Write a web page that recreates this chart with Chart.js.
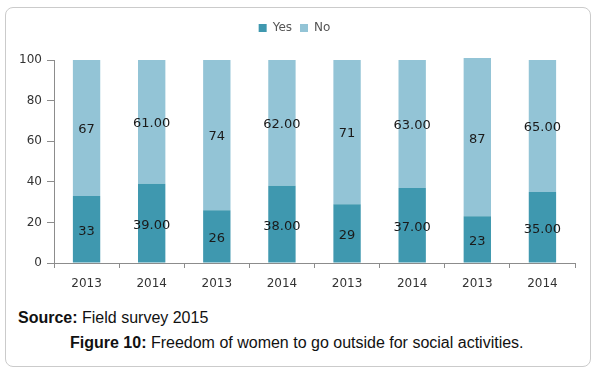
<!DOCTYPE html>
<html lang="en">
<head>
  <meta charset="UTF-8">
  <title>Figure 10</title>
  <script src="https://cdn.jsdelivr.net/npm/chart.js"></script>
  <style>
    body { margin: 0; background: #fff; }
    .frame {
      position: absolute;
      left: 5px; top: 7px;
      width: 586px; height: 360px;
      box-sizing: border-box;
      border: 1.5px solid #cbcbcb;
      border-radius: 8px;
    }
    .chart-box {
      position: absolute;
      left: 0; top: 0;
      width: 600px; height: 294px;
    }
    .source {
      position: absolute;
      left: 18px; top: 309px;
      font: 16px "Liberation Sans", Arial, sans-serif;
      color: #111;
    }
    .caption {
      position: absolute;
      left: 70px; top: 334px;
      font: 16px "Liberation Sans", Arial, sans-serif;
      color: #111;
    }
  </style>
</head>
<body>
  <div class="frame"></div>
  <div class="chart-box">
    <canvas id="chart"></canvas>
  </div>
  <div class="source"><b>Source:</b> Field survey 2015</div>
  <div class="caption"><b>Figure 10:</b> Freedom of women to go outside for social activities.</div>

  <script>
    const years = ['2013', '2014', '2013', '2014', '2013', '2014', '2013', '2014'];
    const yesValues = [33, 39, 26, 38, 29, 37, 23, 35];
    const noValues = [67, 61, 74, 62, 71, 63, 78, 65]; // 7th bar drawn shorter than its label
    const yesLabels = ['33', '39.00', '26', '38.00', '29', '37.00', '23', '35.00'];
    const noLabels = ['67', '61.00', '74', '62.00', '71', '63.00', '87', '65.00'];

    const yesColor = '#3f98af';
    const noColor = '#93c4d6';
    const axisColor = '#8c8c8c';

    // value labels in the middle of each segment
    const barText = {
      id: 'barText',
      afterDatasetsDraw(chart) {
        const c = chart.ctx;
        const texts = [yesLabels, noLabels];
        c.save();
        c.font = '13px "DejaVu Sans", sans-serif';
        c.fillStyle = '#1a1a1a';
        c.textAlign = 'center';
        c.textBaseline = 'middle';
        chart.data.datasets.forEach((ds, i) => {
          chart.getDatasetMeta(i).data.forEach((bar, j) => {
            c.fillText(texts[i][j], bar.x, (bar.y + bar.base) / 2 + 2);
          });
        });
        c.restore();
      }
    };

    new Chart(document.getElementById('chart'), {
      type: 'bar',
      data: {
        labels: years,
        datasets: [
          { label: 'Yes', data: yesValues, backgroundColor: yesColor, clip: false },
          { label: 'No', data: noValues, backgroundColor: noColor, clip: false }
        ]
      },
      options: {
        responsive: true,
        maintainAspectRatio: false,
        animation: false,
        categoryPercentage: 1,
        barPercentage: 0.42,
        layout: { padding: { top: 14, right: 25, left: 14, bottom: 0 } },
        plugins: {
          legend: {
            position: 'top',
            labels: {
              boxWidth: 8,
              boxHeight: 8,
              padding: 8,
              color: '#555',
              font: { family: 'DejaVu Sans', size: 12 }
            }
          },
          tooltip: { enabled: false }
        },
        scales: {
          x: {
            stacked: true,
            grid: { drawOnChartArea: false, tickLength: 5, color: axisColor },
            border: { color: axisColor },
            ticks: { color: '#333', padding: 9, font: { family: 'DejaVu Sans', size: 12 } },
            afterFit(s) { s.height = 31; }
          },
          // empty band between the legend and the plot
          gap: {
            type: 'category',
            position: 'top',
            grid: { display: false },
            border: { display: false },
            ticks: { display: false },
            afterFit(s) { s.height = 16; }
          },
          y: {
            stacked: true,
            min: 0,
            max: 100,
            ticks: { stepSize: 20, color: '#333', padding: 5, font: { family: 'DejaVu Sans', size: 12 } },
            grid: { drawOnChartArea: false, tickLength: 7, color: axisColor },
            border: { color: axisColor },
            afterFit(s) { s.width = 40; }
          }
        }
      },
      plugins: [barText]
    });
  </script>
</body>
</html>
